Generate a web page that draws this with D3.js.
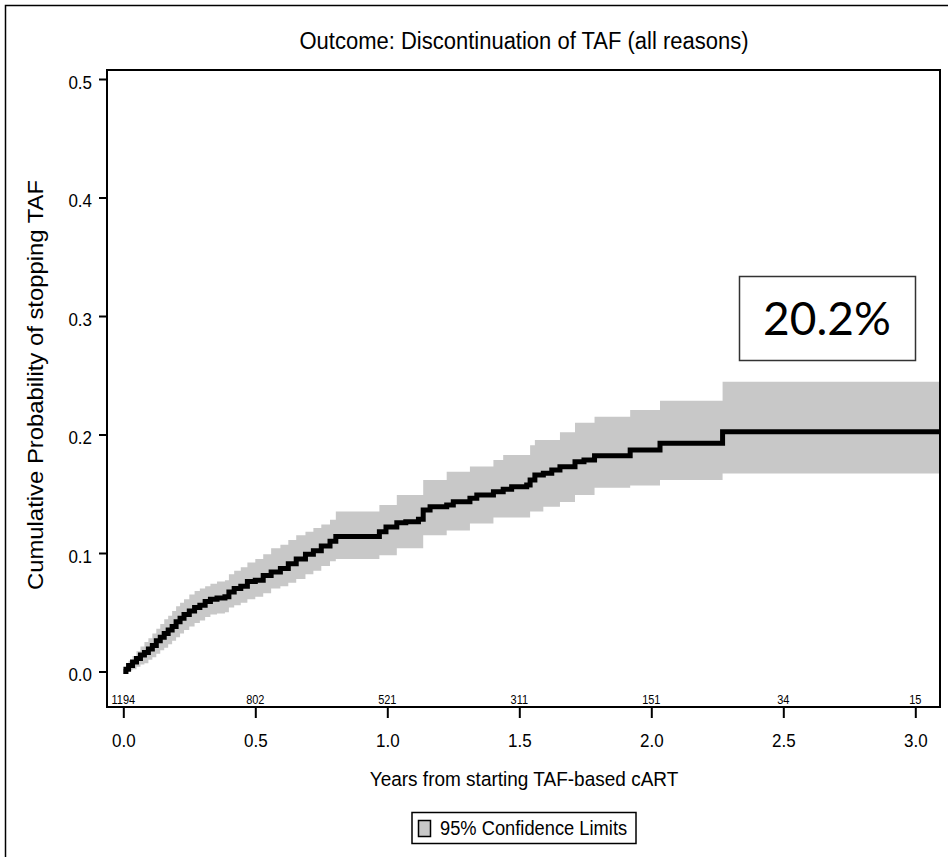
<!DOCTYPE html>
<html>
<head>
<meta charset="utf-8">
<script src="https://cdn.jsdelivr.net/npm/d3@7"></script>
<style>
  body { margin: 0; background: #fff; }
  text { font-family: "Liberation Sans", Arial, sans-serif; fill: #000; }
</style>
</head>
<body>
<div id="chart"></div>
<script>
let svgWidth = 948;
let svgHeight = 857;

// plot frame (pixels)
let frame = { left: 107, top: 70, right: 940, bottom: 707 };

// the original picture is stretched a little vertically, so text is too
let stretch = 1.11;

// Kaplan-Meier step data (years, cumulative probability)
let times = [0, 0.01, 0.02, 0.035, 0.05, 0.065, 0.08, 0.095, 0.11, 0.125, 0.14, 0.155, 0.17, 0.185,
  0.2, 0.215, 0.23, 0.25, 0.27, 0.29, 0.31, 0.33, 0.355, 0.385, 0.4, 0.42, 0.445, 0.47, 0.5, 0.53,
  0.56, 0.595, 0.625, 0.655, 0.69, 0.72, 0.75, 0.783, 0.805, 0.97, 0.995, 1.036, 1.07, 1.118, 1.136,
  1.162, 1.225, 1.25, 1.313, 1.339, 1.402, 1.439, 1.471, 1.528, 1.541, 1.559, 1.591, 1.623, 1.654,
  1.711, 1.745, 1.785, 1.92, 2.033, 2.27, 3.2];
let estimate = [0, 0.002, 0.005, 0.008, 0.011, 0.014, 0.016, 0.019, 0.022, 0.026, 0.029, 0.032, 0.035, 0.038,
  0.042, 0.045, 0.048, 0.051, 0.054, 0.056, 0.059, 0.061, 0.062, 0.063, 0.067, 0.070, 0.072, 0.076, 0.077, 0.081,
  0.084, 0.087, 0.091, 0.095, 0.099, 0.102, 0.106, 0.110, 0.114, 0.118, 0.122, 0.1256, 0.1264, 0.1284, 0.1363,
  0.139, 0.1405, 0.1433, 0.1461, 0.149, 0.1517, 0.1537, 0.156, 0.1574, 0.1616, 0.1658, 0.1673, 0.170, 0.1728,
  0.177, 0.1785, 0.182, 0.187, 0.1926, 0.2024, 0.2024];
let lowerCL = [0, 0.000, 0.001, 0.002, 0.004, 0.006, 0.007, 0.010, 0.012, 0.015, 0.018, 0.020, 0.023, 0.026,
  0.029, 0.032, 0.035, 0.038, 0.041, 0.043, 0.046, 0.048, 0.049, 0.050, 0.054, 0.056, 0.058, 0.061, 0.063, 0.066,
  0.070, 0.072, 0.075, 0.078, 0.082, 0.085, 0.089, 0.093, 0.095, 0.098, 0.098, 0.104, 0.104, 0.104, 0.115,
  0.115, 0.119, 0.119, 0.125, 0.125, 0.130, 0.130, 0.130, 0.130, 0.135, 0.135, 0.139, 0.139, 0.143,
  0.149, 0.149, 0.155, 0.157, 0.1616, 0.167, 0.167];
let upperCL = [0, 0.005, 0.009, 0.013, 0.017, 0.021, 0.025, 0.028, 0.032, 0.036, 0.040, 0.044, 0.047, 0.051,
  0.055, 0.058, 0.061, 0.065, 0.068, 0.070, 0.072, 0.074, 0.076, 0.077, 0.082, 0.085, 0.088, 0.092, 0.095, 0.099,
  0.104, 0.107, 0.111, 0.115, 0.118, 0.121, 0.124, 0.128, 0.135, 0.1405, 0.1405, 0.149, 0.149, 0.149, 0.1616,
  0.1616, 0.1686, 0.1686, 0.173, 0.173, 0.1785, 0.1827, 0.1827, 0.1827, 0.191, 0.1954, 0.1954, 0.1954, 0.202,
  0.210, 0.210, 0.215, 0.2207, 0.2285, 0.2446, 0.2446];

// number at risk printed above the x axis
let riskTimes = [0, 0.5, 1.0, 1.5, 2.0, 2.5, 3.0];
let atRisk = [1194, 802, 521, 311, 151, 34, 15];

let yTicks = [0, 0.1, 0.2, 0.3, 0.4, 0.5];
let xTicks = [0, 0.5, 1.0, 1.5, 2.0, 2.5, 3.0];

let kmData = times.map((t, i) => ({ t: t, est: estimate[i], lo: lowerCL[i], hi: upperCL[i] }));

let svg = d3.select("#chart")
  .append("svg")
  .attr("width", svgWidth)
  .attr("height", svgHeight);

// place a text at (x, y) and stretch it vertically about its baseline
function tallText(sel, x, y) {
  return sel.attr("x", 0).attr("y", 0)
    .attr("transform", `translate(${x}, ${y}) scale(1, ${stretch})`);
}

// outer border (runs off the right and bottom of the picture)
svg.append("rect")
  .attr("x", 5.5)
  .attr("y", 5.5)
  .attr("width", 1000)
  .attr("height", 1000)
  .attr("fill", "none")
  .attr("stroke", "#000")
  .attr("stroke-width", 1.5);

let xScale = d3.scaleLinear()
  .domain([0, 3])
  .range([123.3, 915.3]);

let yScale = d3.scaleLinear()
  .domain([0, 0.5])
  .range([671.5, 79]);

svg.append("clipPath")
  .attr("id", "plotClip")
  .append("rect")
  .attr("x", frame.left)
  .attr("y", frame.top)
  .attr("width", frame.right - frame.left)
  .attr("height", frame.bottom - frame.top);

let plot = svg.append("g").attr("clip-path", "url(#plotClip)");

// confidence band
let band = d3.area()
  .curve(d3.curveStepAfter)
  .x(d => xScale(d.t))
  .y0(d => yScale(d.lo))
  .y1(d => yScale(d.hi));

plot.append("path")
  .datum(kmData)
  .attr("d", band)
  .attr("fill", "#c8c8c8");

// estimate
let line = d3.line()
  .curve(d3.curveStepAfter)
  .x(d => xScale(d.t))
  .y(d => yScale(d.est));

plot.append("path")
  .datum(kmData)
  .attr("d", line)
  .attr("fill", "none")
  .attr("stroke", "#000")
  .attr("stroke-width", 5)
  .attr("stroke-linejoin", "miter");

// plot frame
svg.append("rect")
  .attr("x", frame.left)
  .attr("y", frame.top)
  .attr("width", frame.right - frame.left)
  .attr("height", frame.bottom - frame.top)
  .attr("fill", "none")
  .attr("stroke", "#000")
  .attr("stroke-width", 2);

// y axis
let leftAxis = d3.axisLeft(yScale)
  .tickValues(yTicks)
  .tickFormat(d3.format(".1f"))
  .tickSize(8);

let yAxis = svg.append("g")
  .attr("transform", `translate(${frame.left}, 0)`)
  .call(leftAxis);
yAxis.select(".domain").remove();
yAxis.selectAll("line").attr("stroke-width", 2);
yAxis.selectAll("text")
  .attr("font-size", 17)
  .attr("font-family", "Liberation Sans, Arial, sans-serif")
  .attr("dy", 0)
  .call(tallText, -15, 9);

// x axis
let bottomAxis = d3.axisBottom(xScale)
  .tickValues(xTicks)
  .tickFormat(d3.format(".1f"))
  .tickSize(11);

let xAxis = svg.append("g")
  .attr("transform", `translate(0, ${frame.bottom})`)
  .call(bottomAxis);
xAxis.select(".domain").remove();
xAxis.selectAll("line").attr("stroke-width", 2);
xAxis.selectAll("text")
  .attr("font-size", 17)
  .attr("font-family", "Liberation Sans, Arial, sans-serif")
  .attr("dy", 0)
  .call(tallText, 0, 40);

// numbers at risk
svg.append("g")
  .selectAll("text")
  .data(riskTimes)
  .enter()
  .append("text")
  .attr("transform", d => `translate(${xScale(d)}, 704) scale(1, ${stretch})`)
  .attr("text-anchor", "middle")
  .attr("font-size", 11)
  .text((d, i) => atRisk[i]);

// title and axis labels
svg.append("text")
  .attr("text-anchor", "middle")
  .attr("font-size", 22)
  .text("Outcome: Discontinuation of TAF (all reasons)")
  .call(tallText, 524, 49);

svg.append("text")
  .attr("text-anchor", "middle")
  .attr("font-size", 19)
  .text("Years from starting TAF-based cART")
  .call(tallText, 524, 786);

svg.append("text")
  .attr("transform", `translate(43, 385) rotate(-90) scale(${stretch}, 1)`)
  .attr("text-anchor", "middle")
  .attr("font-size", 21.5)
  .text("Cumulative Probability of stopping TAF");

// annotation box
svg.append("rect")
  .attr("x", 739.5)
  .attr("y", 276.5)
  .attr("width", 176)
  .attr("height", 84)
  .attr("fill", "#fff")
  .attr("stroke", "#333")
  .attr("stroke-width", 1.5);

svg.append("text")
  .attr("x", 827)
  .attr("y", 335)
  .attr("text-anchor", "middle")
  .style("font-family", "Lato, 'Open Sans', sans-serif")
  .attr("font-size", 46)
  .text("20.2%");

// legend
let legend = svg.append("g");
legend.append("rect")
  .attr("x", 412)
  .attr("y", 812.5)
  .attr("width", 224)
  .attr("height", 31)
  .attr("fill", "#fff")
  .attr("stroke", "#000")
  .attr("stroke-width", 1.5);
legend.append("rect")
  .attr("x", 418.5)
  .attr("y", 820.5)
  .attr("width", 12)
  .attr("height", 16)
  .attr("fill", "#c8c8c8")
  .attr("stroke", "#000")
  .attr("stroke-width", 1.5);
legend.append("text")
  .attr("font-size", 18.3)
  .text("95% Confidence Limits")
  .call(tallText, 440, 835);
</script>
</body>
</html>
